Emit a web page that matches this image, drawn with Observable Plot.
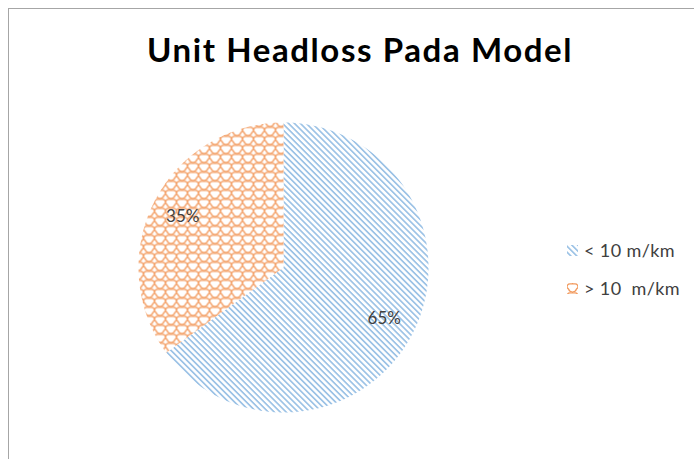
<!DOCTYPE html>
<html>
<head>
<meta charset="utf-8">
<script src="https://cdn.jsdelivr.net/npm/d3@7"></script>
<script src="https://cdn.jsdelivr.net/npm/@observablehq/plot@0.6"></script>
<style>
  html, body { margin: 0; padding: 0; background: #fff; }
  #wrap { position: relative; width: 694px; height: 459px; overflow: hidden; font-family: Lato, "Open Sans", sans-serif; }
  #frame { position: absolute; left: 8px; top: 8px; right: -10px; bottom: -10px; border-left: 1.5px solid #a6a6a6; border-top: 1.5px solid #a6a6a6; pointer-events: none; }
  #title { position: absolute; left: 0; width: 720px; top: 29px; text-align: center; font-size: 33px; line-height: 40px; font-weight: bold; color: #000; letter-spacing: 1.6px; }
  #legend { position: absolute; left: 567px; top: 240px; font-size: 18px; color: #404040; letter-spacing: 0.4px; }
  .item { display: flex; align-items: center; height: 20px; margin-bottom: 18px; white-space: pre; }
  .sw { width: 11px; height: 11px; margin-right: 6px; }
  #chart { position: absolute; left: 0; top: 0; }
</style>
</head>
<body>
<div id="wrap">
  <div id="chart"></div>
  <div id="frame"></div>
  <div id="title"></div>
  <div id="legend"></div>
</div>
<script>
const title = "Unit Headloss Pada Model";
const categories = ["< 10 m/km", ">\u00a010  m/km"];
const values = [65, 35];
const labels = ["65%", "35%"];
const patterns = ["pat-blue", "pat-orange"];

// Pie geometry from the values (angles clockwise from 12 o'clock)
const arcs = d3.pie().sort(null)(values);
const polys = arcs.map((a, i) => {
  const pts = [{k: i, x: 0, y: 0}];
  const n = Math.max(2, Math.ceil((a.endAngle - a.startAngle) / (Math.PI / 360)));
  for (let j = 0; j <= n; j++) {
    const t = a.startAngle + (a.endAngle - a.startAngle) * j / n;
    pts.push({k: i, x: Math.sin(t), y: Math.cos(t)});
  }
  pts.push({k: i, x: 0, y: 0});
  return pts;
});
const labelData = arcs.map((a, i) => {
  const m = (a.startAngle + a.endAngle) / 2;
  return {x: 0.78 * Math.sin(m), y: 0.77 * Math.cos(m), text: labels[i]};
});

const plot = Plot.plot({
  width: 694,
  height: 459,
  margin: 0,
  x: {domain: [-1, 1], range: [138, 428], axis: null},
  y: {domain: [-1, 1], range: [412, 122], axis: null},
  marks: [
    ...polys.map((p, i) => Plot.line(p, {x: "x", y: "y", fill: `url(#${patterns[i]})`, stroke: "none", curve: "linear"})),
    Plot.text(labelData, {x: "x", y: "y", text: "text", fontSize: 17, fill: "#404040", fontFamily: "Lato, 'Open Sans', sans-serif"})
  ]
});

const defs = `
<defs>
  <pattern id="pat-blue" width="4.2" height="4.2" patternUnits="userSpaceOnUse" patternTransform="rotate(45)">
    <rect width="4.2" height="4.2" fill="#ffffff"/>
    <rect width="4.2" height="1.7" fill="#9dc3e6"/>
  </pattern>
  <pattern id="pat-orange" width="11" height="9" patternUnits="userSpaceOnUse">
    <rect width="11" height="9" fill="#ffffff"/>
    <path d="M0,4.5 Q0,0.8 3,0.8 L5.5,0.8 L8,0.8 Q11,0.8 11,4.5 M-5.5,9 Q-2.5,9 -1.5,6 L0,4.5 L1.5,6 Q2.5,9 5.5,9 Q8.5,9 9.5,6 L11,4.5 L12.5,6 Q13.5,9 16.5,9 M5.5,9 L5.5,11 M5.5,0.8 L5.5,-2"
      fill="none" stroke="#f29a5e" stroke-width="1.25" stroke-linejoin="round" stroke-linecap="round"/>
  </pattern>
</defs>`;
plot.insertAdjacentHTML("afterbegin", defs);
document.getElementById("chart").appendChild(plot);
document.getElementById("title").textContent = title;

const legend = document.getElementById("legend");
categories.forEach((c, i) => {
  const item = document.createElement("div");
  item.className = "item";
  item.innerHTML = `<svg class="sw" width="11" height="11"><rect width="11" height="11" fill="url(#${patterns[i]})"/></svg><span></span>`;
  item.querySelector("span").textContent = c;
  legend.appendChild(item);
});
</script>
</body>
</html>
